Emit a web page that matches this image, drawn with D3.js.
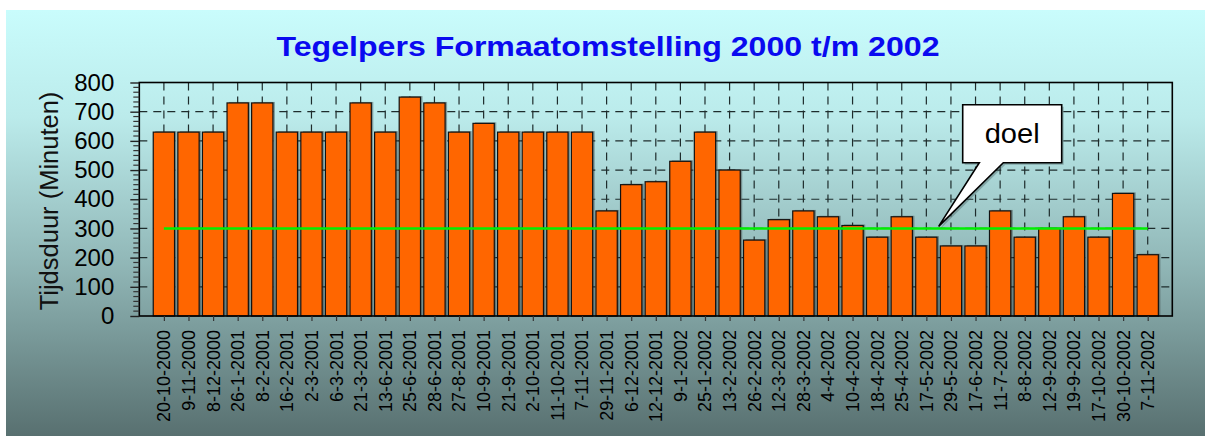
<!DOCTYPE html>
<html>
<head>
<meta charset="utf-8">
<script src="https://cdn.jsdelivr.net/npm/d3@7"></script>
<style>
  html, body { margin: 0; padding: 0; background: #ffffff; }
  svg { display: block; font-family: "Liberation Sans", Arial, sans-serif; }
</style>
</head>
<body>
<svg id="chart" width="1205" height="436"></svg>
<script>
// ---- data ----
const categories = [
  "20-10-2000","9-11-2000","8-12-2000","26-1-2001","8-2-2001","16-2-2001","2-3-2001",
  "6-3-2001","21-3-2001","13-6-2001","25-6-2001","28-6-2001","27-8-2001","10-9-2001",
  "21-9-2001","2-10-2001","11-10-2001","7-11-2001","29-11-2001","6-12-2001","12-12-2001",
  "9-1-2002","25-1-2002","13-2-2002","26-2-2002","12-3-2002","28-3-2002","4-4-2002",
  "10-4-2002","18-4-2002","25-4-2002","17-5-2002","29-5-2002","17-6-2002","11-7-2002",
  "8-8-2002","12-9-2002","19-9-2002","17-10-2002","30-10-2002","7-11-2002"
];
const durations = [
  630,630,630,730,730,630,630,
  630,730,630,750,730,630,660,
  630,630,630,630,360,450,460,
  530,630,500,260,330,360,340,
  310,270,340,270,240,240,360,
  270,300,340,270,420,210
];
const target = 300;
const yTicks = [0,100,200,300,400,500,600,700,800];
const title = "Tegelpers Formaatomstelling 2000 t/m 2002";
const yTitle = "Tijdsduur (Minuten)";
const calloutText = "doel";

// ---- layout ----
const svg = d3.select("#chart");
const W = 1205, H = 436;
const plot = { left: 139.3, right: 1172.3, top: 82.5, bottom: 316 };

const defs = svg.append("defs");
const grad = defs.append("linearGradient").attr("id","bg").attr("x1",0).attr("y1",0).attr("x2",0).attr("y2",1);
grad.append("stop").attr("offset","0%").attr("stop-color","#c9fcfc");
grad.append("stop").attr("offset","25%").attr("stop-color","#bbebeb");
grad.append("stop").attr("offset","60%").attr("stop-color","#90b6b6");
grad.append("stop").attr("offset","100%").attr("stop-color","#587070");

svg.append("rect").attr("x",6).attr("y",10).attr("width",W-6).attr("height",H-10).attr("fill","url(#bg)");

const x = d3.scalePoint().domain(categories).range([plot.left, plot.right]).padding(1);
const y = d3.scaleLinear().domain([0, 800]).range([plot.bottom, plot.top]);
const barW = 21.3;

// gridlines
const grid = svg.append("g").attr("stroke","#1e2c2c").attr("stroke-width",1.2).attr("stroke-dasharray","8,6");
grid.selectAll("line.v").data(categories).join("line")
  .attr("class","v")
  .attr("x1", d => x(d)).attr("x2", d => x(d))
  .attr("y1", plot.top).attr("y2", plot.bottom);
grid.selectAll("line.h").data(yTicks.filter(v => v > 0 && v < 800)).join("line")
  .attr("class","h")
  .attr("x1", plot.left).attr("x2", plot.right)
  .attr("y1", d => y(d)).attr("y2", d => y(d));

// bars (with shadow)
const bars = svg.append("g");
bars.selectAll("rect.shadow").data(durations).join("rect")
  .attr("class","shadow")
  .attr("x", (d,i) => x(categories[i]) - barW/2 + 2)
  .attr("y", d => y(d) - 1)
  .attr("width", barW)
  .attr("height", d => y(0) - y(d) + 1)
  .attr("fill","rgba(50,60,60,0.45)");
bars.selectAll("rect.bar").data(durations).join("rect")
  .attr("class","bar")
  .attr("x", (d,i) => x(categories[i]) - barW/2)
  .attr("y", d => y(d))
  .attr("width", barW)
  .attr("height", d => y(0) - y(d))
  .attr("fill","#ff6600")
  .attr("stroke","#111")
  .attr("stroke-width",1.2);

// target line
svg.append("line")
  .attr("x1", x(categories[0])).attr("x2", x(categories[categories.length-1]))
  .attr("y1", y(target)).attr("y2", y(target))
  .attr("stroke","#00f000").attr("stroke-width",2.6);

// frame
svg.append("rect")
  .attr("x", plot.left).attr("y", plot.top)
  .attr("width", plot.right - plot.left).attr("height", plot.bottom - plot.top)
  .attr("fill","none").attr("stroke","#000").attr("stroke-width",1.6);

// y axis
const yAxis = svg.append("g").attr("transform", `translate(${plot.left},0)`)
  .call(d3.axisLeft(y).tickValues(yTicks).tickSize(9).tickPadding(16).tickFormat(d3.format("d")));
yAxis.select(".domain").remove();
yAxis.selectAll(".tick line").attr("stroke","#222").attr("stroke-width",1.4);
yAxis.selectAll("text").attr("font-size","24px").attr("fill","#000")
  .attr("font-family",'"Liberation Sans", Arial, sans-serif');
// minor ticks
const minor = d3.range(0, 800, 100/6).filter(v => Math.abs(v/100 - Math.round(v/100)) > 1e-6);
svg.append("g").selectAll("line").data(minor).join("line")
  .attr("x1", plot.left - 6).attr("x2", plot.left)
  .attr("y1", d => y(d)).attr("y2", d => y(d))
  .attr("stroke","#333").attr("stroke-width",1.2);

// x axis
const xAxis = svg.append("g").attr("transform", `translate(0,${plot.bottom})`)
  .call(d3.axisBottom(x).tickSize(5));
xAxis.select(".domain").remove();
xAxis.selectAll(".tick line").attr("stroke","#333").attr("stroke-width",1.2);
xAxis.selectAll("text")
  .attr("transform","rotate(-90)")
  .attr("x", -14).attr("y", 0).attr("dy","0.33em")
  .attr("text-anchor","end")
  .attr("font-size","18px").attr("fill","#000")
  .attr("font-family",'"Liberation Sans", Arial, sans-serif');

// titles
svg.append("text").attr("x", 608).attr("y", 55.7)
  .attr("text-anchor","middle").attr("font-size","28px").attr("font-weight","bold")
  .attr("textLength", 663).attr("lengthAdjust","spacingAndGlyphs")
  .attr("fill","#0a0af0").text(title);
svg.append("text").attr("transform","translate(49,201) rotate(-90)")
  .attr("dy","0.35em").attr("text-anchor","middle").attr("font-size","25.5px")
  .attr("fill","#111").text(yTitle);

// callout
const tipX = (x(categories[31]) + x(categories[32])) / 2;
const tipY = y(target) - 2;
const box = { x0: 962.7, x1: 1061.7, y0: 104.7, y1: 162.7 };
const path = `M${box.x0},${box.y0} L${box.x1},${box.y0} L${box.x1},${box.y1} L1003.3,${box.y1} L${tipX},${tipY} L979.3,${box.y1} L${box.x0},${box.y1} Z`;
svg.append("path").attr("d", path).attr("transform","translate(2,2)")
  .attr("fill","rgba(60,80,80,0.35)");
svg.append("path").attr("d", path).attr("fill","#fff").attr("stroke","#000").attr("stroke-width",1.6)
  .attr("stroke-linejoin","miter");
svg.append("text").attr("x", (box.x0 + box.x1)/2).attr("y", 142.7)
  .attr("text-anchor","middle").attr("font-size","27px")
  .attr("textLength", 55).attr("lengthAdjust","spacingAndGlyphs")
  .attr("fill","#000").text(calloutText);
</script>
</body>
</html>
